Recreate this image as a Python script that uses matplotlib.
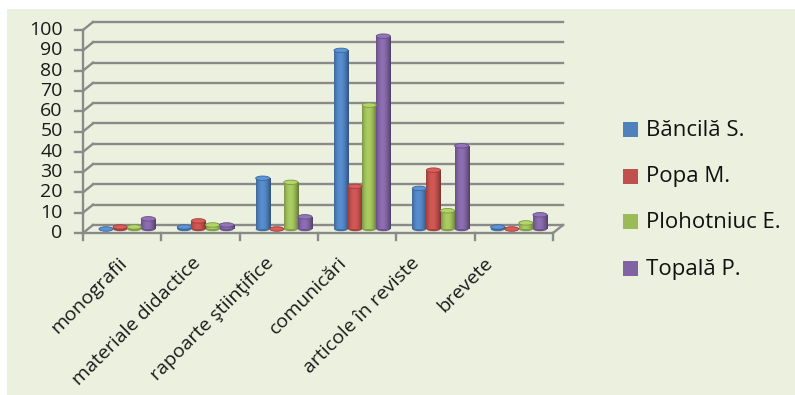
import numpy as np
import matplotlib as mpl
mpl.use('Agg')
import matplotlib.pyplot as plt
from matplotlib.patches import Rectangle, Ellipse
from matplotlib.transforms import offset_copy

plt.rcParams['font.family'] = ['Open Sans', 'DejaVu Sans']

# publication counts per category and author
categories = ['monografii', 'materiale didactice', 'rapoarte ştiinţifice',
              'comunicări', 'articole în reviste', 'brevete']
bancila = [0, 1, 25, 88, 20, 1]
popa = [1, 4, 0, 21, 29, 0]
plohotniuc = [1, 2, 23, 61, 9, 3]
topala = [5, 2, 6, 95, 41, 7]
authors = ['Băncilă S.', 'Popa M.', 'Plohotniuc E.', 'Topală P.']
yticks = list(range(0, 101, 10))

colors = ['#4f81bd', '#c0504d', '#9bbb59', '#8064a2']
panel = '#ebf1de'
gridc = '#8a8a8a'

fig = plt.figure(figsize=(7.95, 3.95), dpi=100)
fig.patch.set_facecolor('white')
fig.patches.append(Rectangle((7 / 795, 0), 788 / 795, 386 / 395,
                             transform=fig.transFigure, facecolor=panel,
                             edgecolor='none', zorder=-10))

ax = fig.add_axes([83 / 795, 162 / 395, 470 / 795, 203 / 395])
ax.set_zorder(5)
ax.axis('off')

# pseudo-3D depth offsets (pixels): back wall and bar plane
back = offset_copy(ax.transData, fig=fig, x=10, y=8, units='dots')
mid = offset_copy(ax.transData, fig=fig, x=5, y=4, units='dots')
x0, x1 = -0.5, len(categories) - 0.5
dx_back = 10 / (470 / 6)  # back offset in data units (x)
dy_back = 8 / 2.03

# gridlines: slanted on the left wall, flat along the back wall
for v in yticks:
    ax.plot([x0, x0 + dx_back], [v, v + dy_back], color=gridc, lw=1.7,
            clip_on=False, zorder=1)
    ax.plot([x0, x1], [v, v], color=gridc, lw=1.7, transform=back,
            clip_on=False, zorder=1)
    # left ticks
    ax.plot([x0 - 0.1, x0], [v, v], color=gridc, lw=1.7, clip_on=False)
    ax.text(x0 - 0.26, v, str(v), ha='right', va='center', fontsize=14,
            color='#1a1a1a')

# floor outline and axes
ax.plot([x0, x1], [0, 0], color=gridc, lw=1.7, clip_on=False, zorder=2)
ax.plot([x1, x1 + dx_back], [0, dy_back], color=gridc, lw=1.7,
        clip_on=False, zorder=2)
ax.plot([x0, x0], [0, 100], color=gridc, lw=1.7, clip_on=False, zorder=2)
for k in range(len(categories) + 1):
    ax.plot([x0 + k, x0 + k], [0, -3.5], color=gridc, lw=1.7, clip_on=False)

# cylinder-like columns
series = [bancila, popa, plohotniuc, topala]
bw = 0.18
grad = np.linspace(0, 1, 64)
shade = 0.6 + 0.45 * np.sin(np.pi * (0.12 + 0.88 * grad))
for j, vals in enumerate(series):
    base = np.array(mpl.colors.to_rgb(colors[j]))
    img = np.clip(base[None, None, :] * shade[None, :, None] * 1.05, 0, 1)
    for i, v in enumerate(vals):
        xl = i - 2 * bw + j * bw
        rect = Rectangle((xl, 0), bw, v, transform=mid, facecolor='none',
                         edgecolor='none')
        ax.add_patch(rect)
        if v > 0:
            im = ax.imshow(img, extent=(xl, xl + bw, 0, v), aspect='auto',
                           transform=mid, zorder=3, interpolation='bilinear')
            im.set_clip_path(rect)
        ax.add_patch(Ellipse((xl + bw / 2, 0), bw, 2.2, transform=mid,
                             facecolor=base * 0.85, edgecolor='none',
                             zorder=2.9))
        top = np.clip(base * 1.15, 0, 1)
        ax.add_patch(Ellipse((xl + bw / 2, v), bw, 2.2, transform=mid,
                             facecolor=top, edgecolor=base * 0.8, lw=0.6,
                             zorder=4))
ax.set_xlim(-0.5, len(categories) - 0.5)
ax.set_ylim(0, 100)

# category labels, rotated, slightly tighter spacing than the columns
for i, c in enumerate(categories):
    ax.annotate(c, xy=(-0.05 + 0.932 * i, 0), xycoords='data',
                xytext=(0, -15), textcoords='offset points', rotation=45,
                ha='right', va='top', rotation_mode='anchor', fontsize=14,
                color='#1a1a1a')

# legend
ypos = [130, 177, 222, 269]
for j, name in enumerate(authors):
    yy = 1 - ypos[j] / 395
    fig.patches.append(Rectangle((623 / 795, yy - 7 / 395), 15 / 795,
                                 15 / 395, transform=fig.transFigure,
                                 facecolor=colors[j], edgecolor='none'))
    fig.text(646 / 795, yy, name, ha='left', va='center', fontsize=16,
             color='#111111')

fig.savefig('out.png', dpi=100, facecolor=fig.get_facecolor())
